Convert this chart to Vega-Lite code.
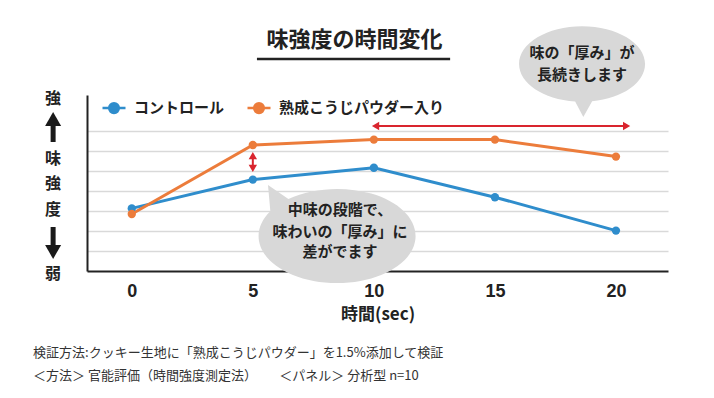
{
  "$schema": "https://vega.github.io/schema/vega-lite/v6.json",
  "width": 581,
  "height": 176,
  "autosize": {"type": "none"},
  "padding": {"left": 87, "top": 95, "right": 46, "bottom": 127},
  "background": "white",
  "config": {"view": {"stroke": null}, "font": "Noto Sans CJK JP"},
  "encoding": {
    "x": {
      "field": "x", "type": "quantitative",
      "scale": {"domain": [-1.85, 22.15], "nice": false, "zero": false},
      "axis": {
        "values": [0, 5, 10, 15, 20], "title": "時間(sec)",
        "titleFont": "Noto Sans CJK JP", "titleFontSize": 17, "titleFontWeight": "bold", "titleColor": "#222222", "titlePadding": 6,
        "labelFont": "Liberation Sans", "labelFontSize": 18, "labelFontWeight": "bold", "labelColor": "#222222", "labelPadding": 11, "labelFlush": false,
        "ticks": false, "grid": false, "domainColor": "#222222", "domainWidth": 2
      }
    },
    "y": {
      "field": "y", "type": "quantitative",
      "scale": {"domain": [0, 8.8], "nice": false, "zero": false},
      "axis": {
        "values": [1, 2, 3, 4, 5, 6, 7], "labels": false, "ticks": false, "title": null,
        "grid": true, "gridColor": "#d9d9d9", "gridWidth": 1.5, "domainColor": "#222222", "domainWidth": 2
      }
    }
  },
  "layer": [
    {
      "data": {"values": [{"x": 18.6, "y": 10.35}]},
      "mark": {"type": "point", "shape": "M-1,0 A1,0.6 0 0,1 1,0 A1,0.6 0 0,1 0.16,0.592 L0.02,0.84 L-0.11,0.596 A1,0.6 0 0,1 -1,0 Z", "size": 15876, "filled": true, "color": "#d8d8d8", "opacity": 1, "strokeWidth": 0}
    },
    {
      "data": {"values": [{"x": 8.48, "y": 1.75}]},
      "mark": {"type": "point", "shape": "M-1,0 A1,0.6 0 0,1 -0.85,-0.316 L-0.88,-0.65 L-0.62,-0.471 A1,0.6 0 0,1 1,0 A1,0.6 0 0,1 -1,0 Z", "size": 24649, "filled": true, "color": "#d8d8d8", "opacity": 1, "strokeWidth": 0}
    },
    {
      "data": {"name": "series", "values": [
        {"series": "コントロール", "x": 0, "y": 3.13},
        {"series": "コントロール", "x": 5, "y": 4.57},
        {"series": "コントロール", "x": 10, "y": 5.16},
        {"series": "コントロール", "x": 15, "y": 3.69},
        {"series": "コントロール", "x": 20, "y": 2.02},
        {"series": "熟成こうじパウダー入り", "x": 0, "y": 2.85},
        {"series": "熟成こうじパウダー入り", "x": 5, "y": 6.3},
        {"series": "熟成こうじパウダー入り", "x": 10, "y": 6.57},
        {"series": "熟成こうじパウダー入り", "x": 15, "y": 6.57},
        {"series": "熟成こうじパウダー入り", "x": 20, "y": 5.72}
      ]},
      "layer": [
        {
          "mark": {"type": "line", "strokeWidth": 3},
          "encoding": {
            "color": {
              "field": "series", "type": "nominal",
              "scale": {"domain": ["コントロール", "熟成こうじパウダー入り"], "range": ["#2f8dcc", "#ec7c3b"]},
              "legend": {
                "orient": "none", "legendX": 14, "legendY": 0, "direction": "horizontal", "title": null, "padding": 0,
                "symbolType": "M-1,0 L1,0 M0.42,0 A0.42,0.42 0 1,1 -0.42,0 A0.42,0.42 0 1,1 0.42,0 Z",
                "symbolSize": 529, "symbolStrokeWidth": 2.5,
                "labelFont": "Noto Sans CJK JP", "labelFontSize": 15, "labelFontWeight": "bold", "labelColor": "#222222",
                "labelOffset": 7, "columnPadding": 17, "labelLimit": 300,
                "encode": {"symbols": {"update": {"fill": {"scale": "color", "field": "value"}, "stroke": {"scale": "color", "field": "value"}, "opacity": {"value": 1}}}}
              }
            }
          }
        },
        {
          "mark": {"type": "point", "filled": true, "size": 70, "opacity": 1},
          "encoding": {"color": {"field": "series", "type": "nominal"}}
        }
      ]
    },
    {
      "data": {"values": [{"x": 10.07, "x2": 20.44, "y": 7.25}]},
      "mark": {"type": "rule", "color": "#d9252e", "strokeWidth": 2},
      "encoding": {"x2": {"field": "x2"}}
    },
    {
      "data": {"values": [{"x": 5, "y": 5.77, "y2": 5.13}]},
      "mark": {"type": "rule", "color": "#d9252e", "strokeWidth": 2},
      "encoding": {"y2": {"field": "y2"}}
    },
    {
      "data": {"values": [
        {"x": 10.07, "y": 7.25, "dir": "left"},
        {"x": 20.44, "y": 7.25, "dir": "right"},
        {"x": 5, "y": 5.77, "dir": "up"},
        {"x": 5, "y": 5.13, "dir": "down"}
      ]},
      "mark": {"type": "point", "filled": true, "size": 70, "color": "#d9252e", "opacity": 1},
      "encoding": {
        "shape": {"field": "dir", "type": "nominal", "scale": {"domain": ["left", "right", "up", "down"], "range": ["triangle-left", "triangle-right", "triangle-up", "triangle-down"]}, "legend": null}
      }
    },
    {
      "data": {"values": [{"x": -3.25, "y": 7.6, "y2": 6.45}, {"x": -3.25, "y": 2.2, "y2": 0.95}]},
      "mark": {"type": "rule", "color": "#1a1a1a", "strokeWidth": 5},
      "encoding": {"y2": {"field": "y2"}}
    },
    {
      "data": {"values": [{"x": -3.25, "y": 7.6, "dir": "up"}, {"x": -3.25, "y": 0.95, "dir": "down"}]},
      "mark": {"type": "point", "filled": true, "size": 256, "color": "#1a1a1a", "opacity": 1},
      "encoding": {
        "shape": {"field": "dir", "type": "nominal", "scale": {"domain": ["up", "down"], "range": ["triangle-up", "triangle-down"]}, "legend": null}
      }
    },
    {
      "data": {"values": [
        {"x": -3.25, "y": 8.6, "t": "強"},
        {"x": -3.25, "y": 5.6, "t": "味"},
        {"x": -3.25, "y": 4.33, "t": "強"},
        {"x": -3.25, "y": 3.06, "t": "度"},
        {"x": -3.25, "y": -0.15, "t": "弱"}
      ]},
      "mark": {"type": "text", "font": "Noto Sans CJK JP", "fontSize": 16, "fontWeight": "bold", "color": "#222222", "align": "center", "baseline": "middle"},
      "encoding": {"text": {"field": "t"}}
    },
    {
      "data": {"values": [
        {"x": 18.6, "y": 10.9, "t": "味の「厚み」が"},
        {"x": 18.6, "y": 9.8, "t": "長続きします"},
        {"x": 8.6, "y": 3.05, "t": "中味の段階で、"},
        {"x": 8.6, "y": 1.95, "t": "味わいの「厚み」に"},
        {"x": 8.6, "y": 0.95, "t": "差がでます"}
      ]},
      "mark": {"type": "text", "font": "Noto Sans CJK JP", "fontSize": 15, "fontWeight": "bold", "color": "#222222", "align": "center", "baseline": "middle"},
      "encoding": {"text": {"field": "t"}}
    },
    {
      "data": {"values": [{"x": 9.2, "y": 11.55, "t": "味強度の時間変化"}]},
      "mark": {"type": "text", "font": "Noto Sans CJK JP", "fontSize": 22, "fontWeight": "bold", "color": "#222222", "align": "center", "baseline": "middle"},
      "encoding": {"text": {"field": "t"}}
    },
    {
      "data": {"values": [{"x": 5.17, "x2": 13.15, "y": 10.6}]},
      "mark": {"type": "rule", "color": "#222222", "strokeWidth": 2.5},
      "encoding": {"x2": {"field": "x2"}}
    },
    {
      "data": {"values": [
        {"x": -4.08, "y": -4.1, "t": "検証方法:クッキー生地に「熟成こうじパウダー」を1.5%添加して検証"},
        {"x": -4.08, "y": -5.25, "t": "＜方法＞ 官能評価（時間強度測定法）　　 ＜パネル＞ 分析型 n=10"}
      ]},
      "mark": {"type": "text", "font": "Noto Sans CJK JP", "fontSize": 13, "color": "#333333", "align": "left", "baseline": "middle"},
      "encoding": {"text": {"field": "t"}}
    }
  ]
}
